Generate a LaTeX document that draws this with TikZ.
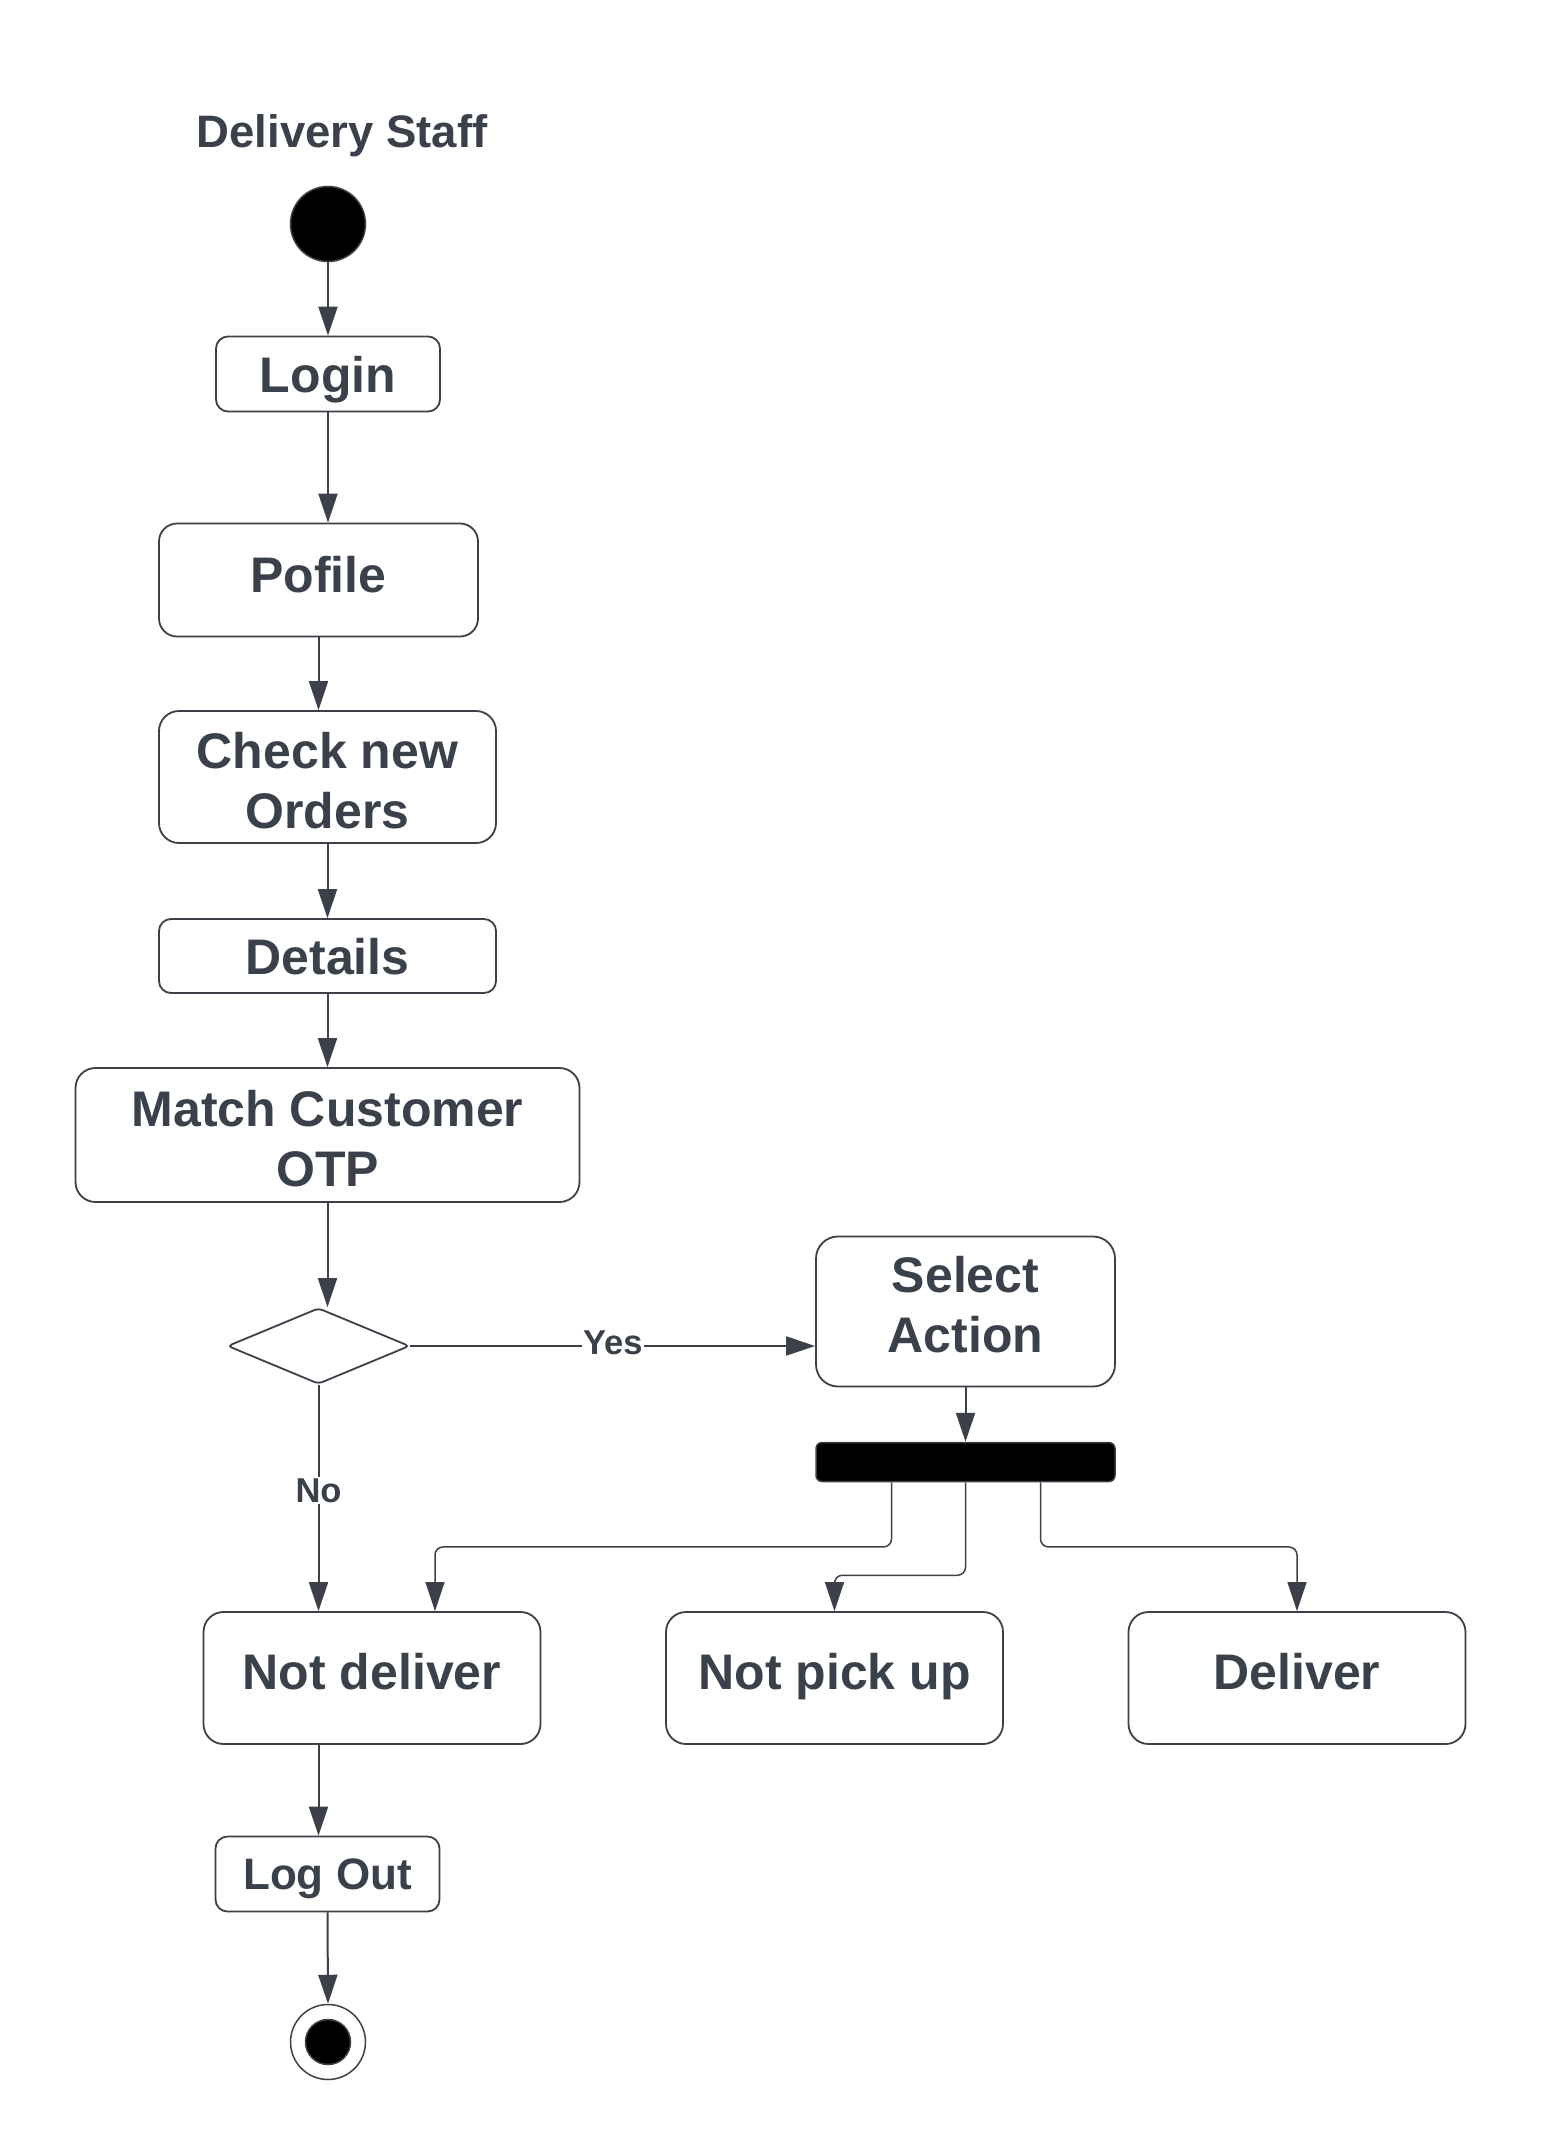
\documentclass[tikz,border=0pt]{standalone}
\usepackage{fontspec}
\setmainfont{Liberation Sans}
\usetikzlibrary{arrows.meta,shapes.geometric}
\definecolor{lc}{HTML}{3B4049}
\definecolor{tc}{HTML}{3A414B}
\begin{document}
\begin{tikzpicture}[x=1pt,y=-1pt,
  every node/.style={text=tc, font=\bfseries},
  box/.style={draw=lc, line width=1.8pt, fill=white, inner sep=0pt},
  big/.style={font=\bfseries\fontsize{50}{60}\selectfont},
  one/.style={text height=36pt, text depth=#1},
  one/.default=0pt,
  flow/.style={draw=lc, line width=2pt, -{Triangle[length=29pt,width=19pt]}},
  fork/.style={draw=lc, line width=1.5pt, rounded corners=8pt, -{Triangle[length=29pt,width=19pt]}},
  lbl/.style={fill=white, inner sep=1pt, font=\bfseries\fontsize{34.5}{40}\selectfont}
]
\fill[white] (0,0) rectangle (1541,2154);
\useasboundingbox (0,0) rectangle (1541,2154);

\node[anchor=base, font=\bfseries\fontsize{45.5}{50}\selectfont] (title) at (342,148) {Delivery Staff};

\node[circle, fill=black, draw=lc, line width=1.5pt, minimum size=75pt, inner sep=0pt] (start) at (328,224) {};

\node[box, big, one, rounded corners=12pt, minimum width=224pt, minimum height=75pt] (login) at (328,374) {Login};
\node[box, big, one=12pt, rounded corners=18pt, minimum width=319pt, minimum height=113pt] (pofile) at (318.5,580) {Pofile};
\node[box, big, align=center, rounded corners=20pt, minimum width=337pt, minimum height=132pt] (check) at (327.5,777) {\rule{0pt}{43pt}Check new\\Orders};
\node[box, big, one, rounded corners=12pt, minimum width=337pt, minimum height=74pt] (details) at (327.5,956) {Details};
\node[box, big, align=center, rounded corners=20pt, minimum width=504pt, minimum height=134pt] (match) at (327.5,1135) {\rule{0pt}{43pt}Match Customer\\OTP};

\node[diamond, draw=lc, line width=1.8pt, fill=white, rounded corners=4pt, minimum width=182pt, minimum height=76pt, inner sep=0pt] (dec) at (318.5,1346) {};

\node[box, big, align=center, rounded corners=22pt, minimum width=299pt, minimum height=150pt] (select) at (965.5,1311.5) {Select\\Action\rule[-14pt]{0pt}{0pt}};

\node[draw=lc, line width=1.5pt, fill=black, rounded corners=6pt, minimum width=299pt, minimum height=39pt, inner sep=0pt] (bar) at (965.5,1462) {};

\node[box, big, one=14pt, rounded corners=20pt, minimum width=337pt, minimum height=132pt] (notdel) at (372,1678) {Not deliver};
\node[box, big, one=14pt, rounded corners=20pt, minimum width=337pt, minimum height=132pt] (notpick) at (834.5,1678) {Not pick up};
\node[box, big, one=14pt, rounded corners=20pt, minimum width=337pt, minimum height=132pt] (deliver) at (1297,1678) {Deliver};

\node[box, one, font=\bfseries\fontsize{44}{50}\selectfont, text height=31.5pt, rounded corners=12pt, minimum width=224pt, minimum height=75pt] (logout) at (327.5,1874) {Log Out};

\node[circle, draw=lc, line width=1.5pt, fill=white, minimum size=75pt, inner sep=0pt] (end) at (328,2042) {};
\node[circle, draw=lc, line width=1.5pt, fill=black, minimum size=45pt, inner sep=0pt] (endin) at (328,2042) {};

% connectors
\draw[flow] (start) -- (login);
\draw[flow] (login.south) -- (login.south |- pofile.north);
\draw[flow] (pofile.south) -- (pofile.south |- check.north);
\draw[flow] (check.south) -- (details.north);
\draw[flow] (details.south) -- (match.north);
\draw[flow] (match.south) -- (match.south |- dec.north);
\draw[flow] (dec.east) -- node[lbl, yshift=3pt] {Yes} (dec.east -| select.west);
\draw[flow] (dec.south) -- node[lbl, pos=0.48, yshift=3pt] {No} (dec.south |- notdel.north);
\draw[flow] (select.south) -- (select.south |- bar.north);
\draw[fork] ([xshift=-74pt]bar.south) -- ++(0,64.7) -| ([xshift=63pt]notdel.north);
\draw[fork] (bar.south) -- ++(0,93) -| (notpick.north);
\draw[fork] ([xshift=75pt]bar.south) -- ++(0,64.7) -| (deliver.north);
\draw[flow] (notdel.south -| dec.south) -- (logout.north -| dec.south);
\draw[flow] (logout.south) -- (end.north);
\end{tikzpicture}
\end{document}
